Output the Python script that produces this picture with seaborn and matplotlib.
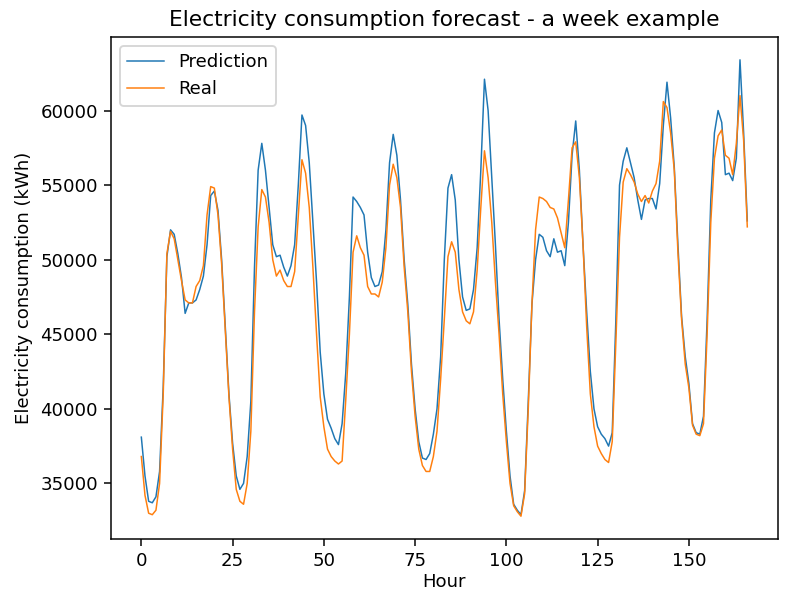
import numpy as np
import pandas as pd
import matplotlib
matplotlib.use("Agg")
import matplotlib.pyplot as plt
import seaborn as sns

# ---------- DATA ----------

prediction = [
    38100, 35500, 33800, 33700, 34100, 35800, 41500, 50200, 52000, 51700,
    50400, 48800, 46400, 47100, 47100, 47300, 48000, 48900, 51000, 54300,
    54600, 53300, 50000, 45500, 41000, 37700, 35500, 34600, 35000, 36800,
    40500, 49500, 56000, 57800, 56000, 53500, 51000, 50200, 50300, 49500,
    48900, 49600, 51000, 55000, 59700, 59000, 56500, 52500, 48500, 43800,
    41000, 39300, 38700, 38000, 37600, 39000, 42400, 47500, 54200, 53900,
    53500, 53000, 50500, 48800, 48200, 48300, 49200, 52000, 56500, 58400,
    57000, 54000, 50000, 47000, 43000, 40000, 37800, 36700, 36600, 37000,
    38300, 40000, 43500, 50000, 54800, 55700, 54000, 50000, 47500, 46600,
    46700, 48000, 50800, 56000, 62100, 60000, 55500, 51000, 46000, 42000,
    38500, 35500, 33600, 33200, 32900, 34500, 40500, 47000, 50000, 51700,
    51500, 50600, 50200, 51400, 50500, 50600, 49600, 52500, 57000, 59300,
    56000, 51000, 46500, 42500, 40000, 38800, 38300, 38000, 37500, 38400,
    46000, 55000, 56600, 57500, 56500, 55500, 54000, 52700, 54000, 54100,
    54100, 53400, 55100, 59000, 61900, 59500, 56200, 51000, 46200, 43500,
    41700, 39000, 38400, 38300, 39500, 46000, 54000, 58500, 60000, 59200,
    55700, 55800, 55300, 56800, 63400, 58500, 52600,
]

real = [
    36800, 34200, 33000, 32900, 33200, 35000, 41000, 50400, 51900, 51400,
    50000, 48600, 47300, 47100, 47100, 48200, 48600, 49600, 53000, 54900,
    54800, 53000, 49700, 45300, 40800, 37300, 34600, 33800, 33600, 35000,
    38500, 46500, 52200, 54700, 54200, 52500, 50000, 48900, 49300, 48600,
    48200, 48200, 49200, 53000, 56700, 55800, 53500, 49500, 45000, 40800,
    38800, 37300, 36800, 36500, 36300, 36500, 40600, 45000, 50500, 51600,
    50800, 50300, 48200, 47700, 47700, 47500, 48500, 50800, 55000, 56400,
    55500, 53500, 49500, 46500, 42500, 39500, 37300, 36200, 35800, 35800,
    36800, 38500, 42000, 46000, 50200, 51200, 50500, 48000, 46500, 45900,
    45700, 46500, 49300, 53500, 57300, 55500, 52500, 48500, 45000, 41000,
    37800, 35000, 33500, 33100, 32800, 34300, 40000, 47000, 52000, 54200,
    54100, 53900, 53500, 53400, 52800, 51800, 50800, 54000, 57500, 57900,
    55500, 51000, 45500, 41000, 38800, 37500, 37000, 36600, 36400, 37800,
    44500, 51500, 55200, 56100, 55700, 55200, 54400, 53900, 54300, 53800,
    54600, 55100, 56600, 60600, 60200, 58500, 56000, 50500, 46000, 43000,
    41400, 38900, 38300, 38200, 39000, 45000, 52500, 56800, 58300, 58700,
    57000, 56800, 55700, 57800, 61000, 58000, 52200,
]

hours = np.arange(len(prediction))

df = pd.DataFrame({
    "Hour": np.concatenate([hours, hours]),
    "Value": prediction + real,
    "Series": ["Prediction"] * len(prediction) + ["Real"] * len(real),
})

# ---------- CHART ----------

plt.rcParams["font.size"] = 9.7

fig = plt.figure(figsize=(792 / 135, 592 / 135), dpi=135)
ax = fig.add_axes([0.1402, 0.0895, 0.8416, 0.848])

sns.lineplot(data=df, x="Hour", y="Value", hue="Series",
             palette=["#1f77b4", "#ff7f0e"], linewidth=0.8, ax=ax)

ax.set_title("Electricity consumption forecast - a week example")
ax.set_xlabel("Hour", labelpad=1.5)
ax.set_ylabel("Electricity consumption (kWh)")
ax.set_yticks([35000, 40000, 45000, 50000, 55000, 60000])
ax.legend(loc="upper left")

fig.savefig("out.png", dpi=135)
